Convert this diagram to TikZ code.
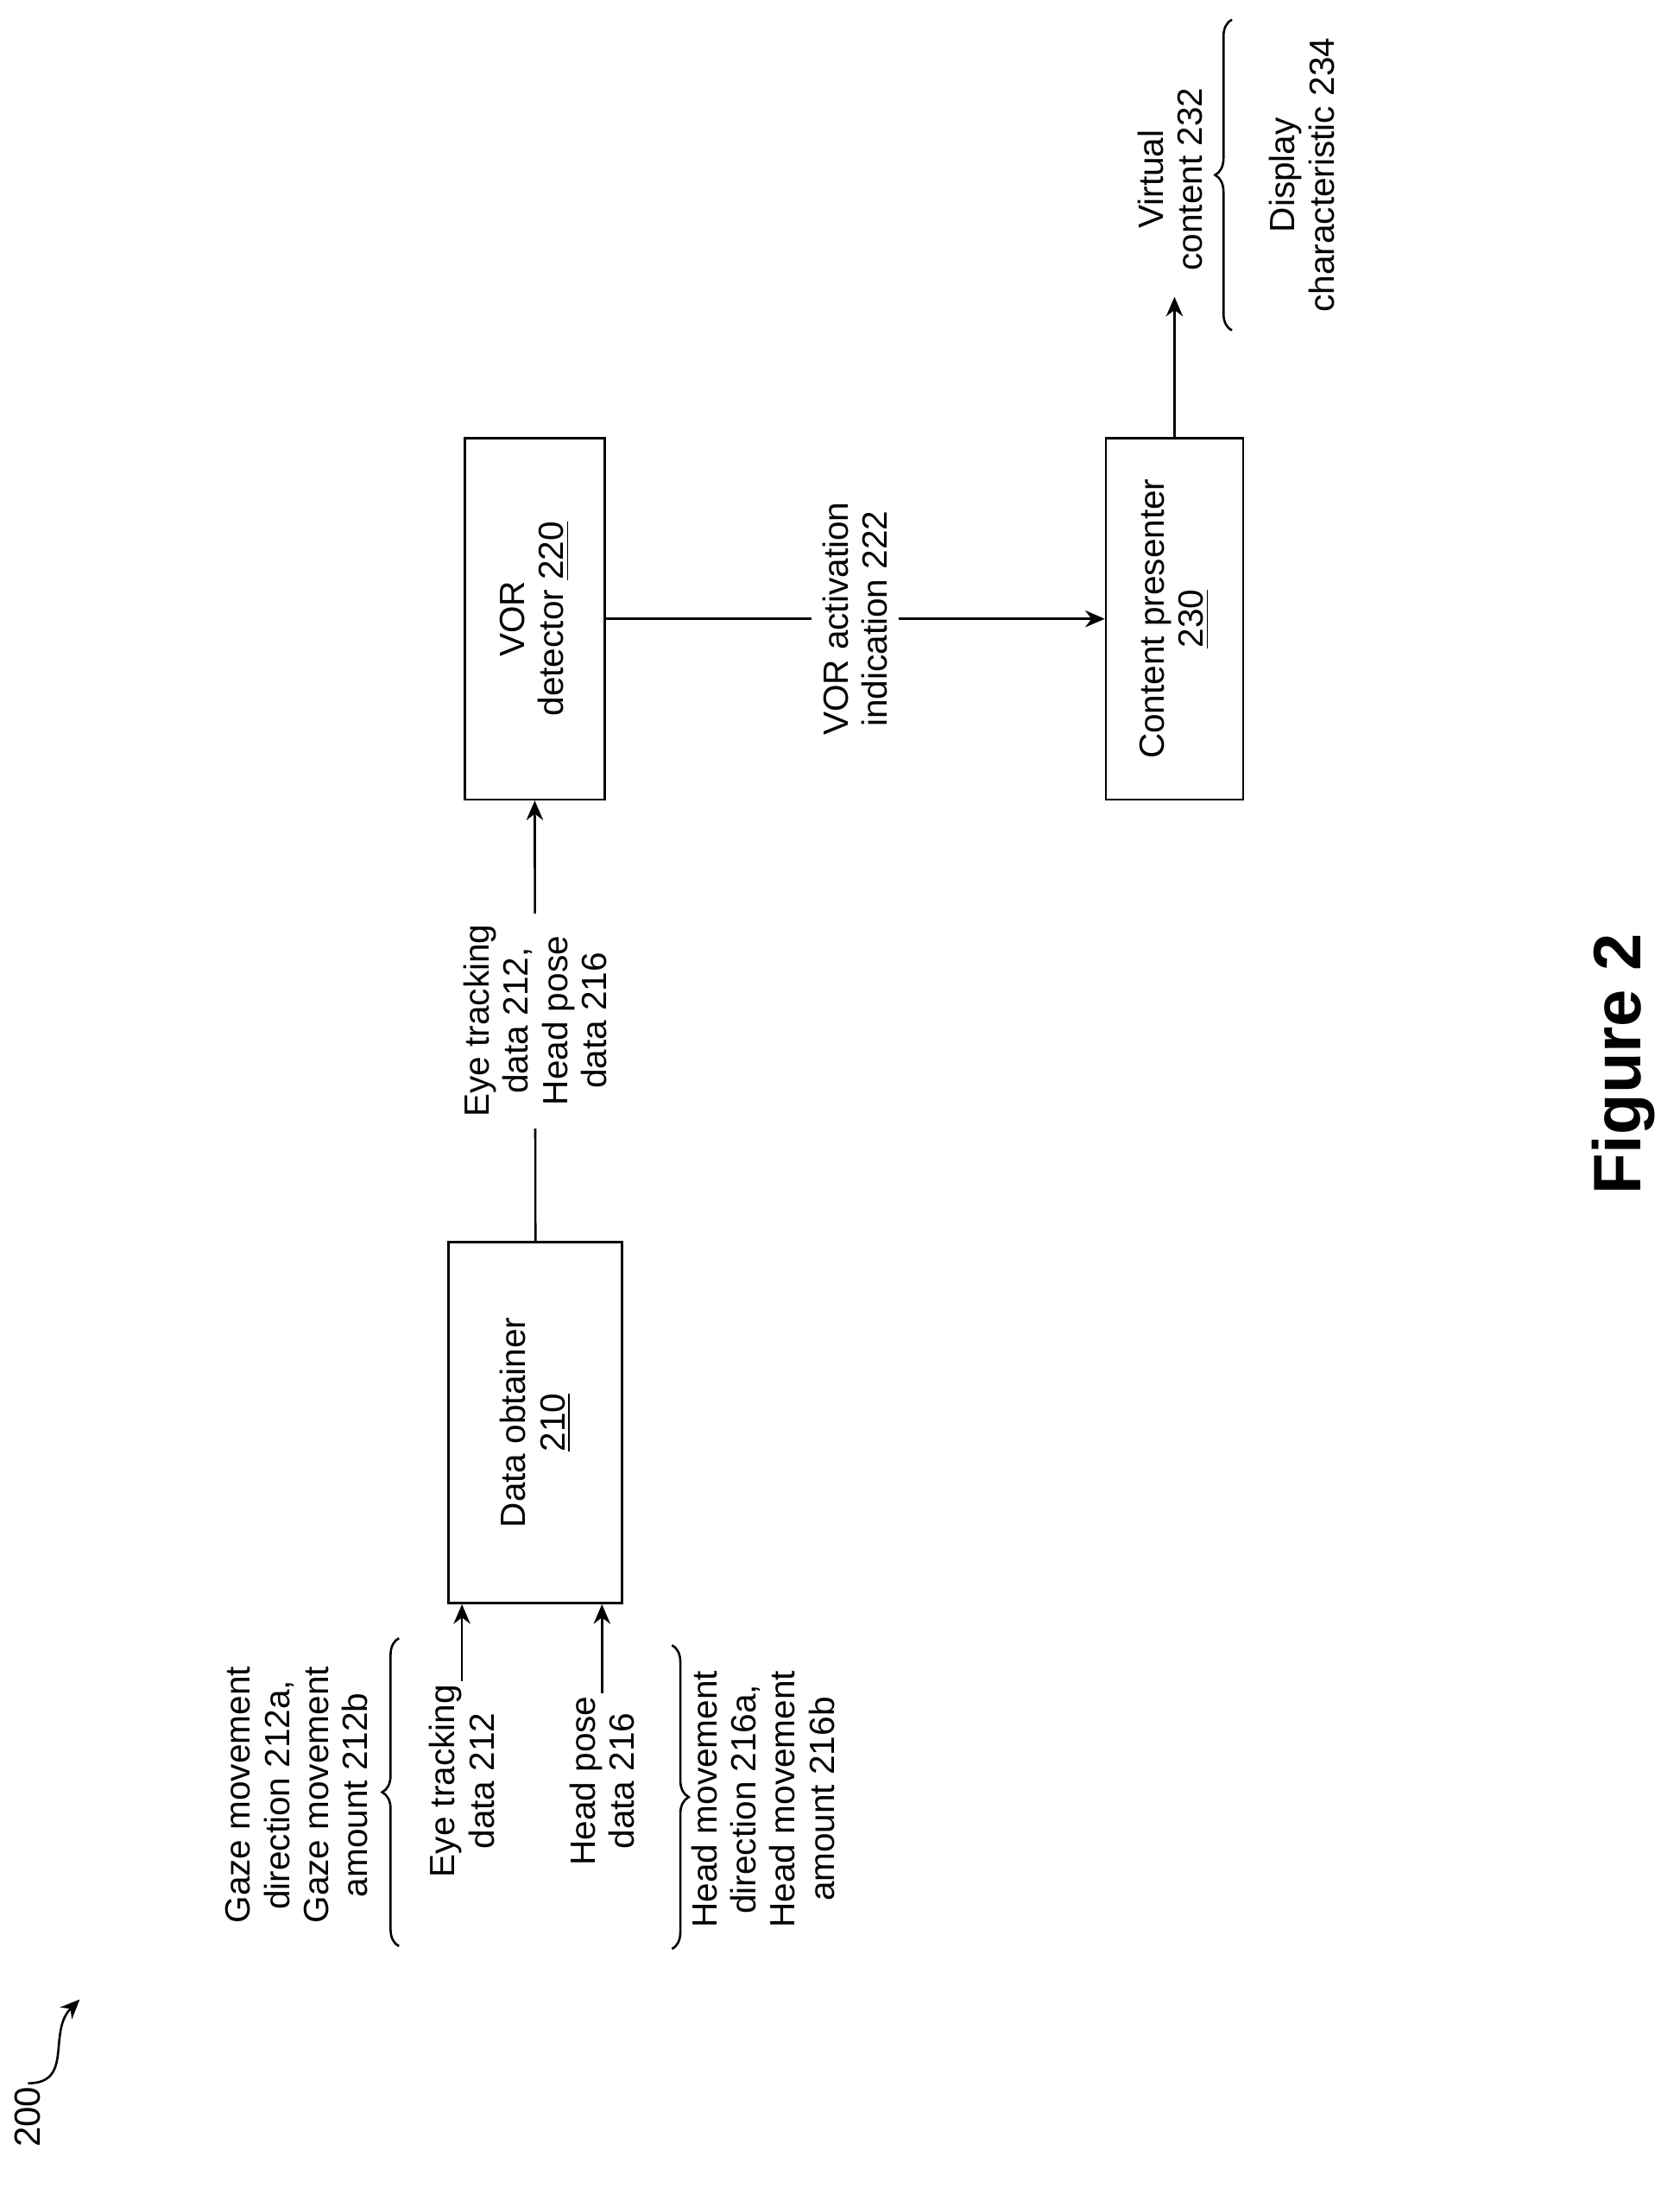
\documentclass[tikz,border=0pt]{standalone}
\usepackage{fontspec}
\setmainfont{Liberation Sans}
\usetikzlibrary{decorations.pathreplacing,arrows.meta}
\tikzset{
	blk/.style 2 args={draw, thick, rotate=90, align=center, minimum width=#1, minimum height=#2, inner sep=2pt},
	txt/.style={rotate=90, align=center, inner sep=1pt, font=\fontsize{12.5}{14}\selectfont},
	arr/.style={thick, -{Stealth[length=7pt,width=6pt]}},
	brc/.style={thick, decorate, decoration={brace, amplitude=6pt}}
}

\begin{document}
\begin{tikzpicture}[x=0.5pt, y=-0.5pt]
	\useasboundingbox (0,0) rectangle (1200,1572);
	\tikzset{every node/.append style={font=\fontsize{12.5}{14}\selectfont}}

	\node[blk={129pt}{62pt}] (do) at (382.5,1016) {Data obtainer\\\underline{210}};
	\node[blk={129pt}{50pt}] (vor) at (382,442) {VOR\\detector \underline{220}};
	\node[blk={129pt}{49pt}] (cp) at (839,442) {Content presenter\\\underline{230}};

	\node[txt] (eye) at (330,1272) {Eye tracking\\data 212};
	\node[txt] (head) at (430,1272) {Head pose\\data 216};
	\node[txt] (gaze) at (212,1282) {Gaze movement\\direction 212a,\\Gaze movement\\amount 212b};
	\node[txt] (hmv) at (545,1285) {Head movement\\direction 216a,\\Head movement\\amount 216b};

	\draw[arr] (eye.east) -- (eye.east |- do.west);
	\draw[arr] (head.east) -- (head.east |- do.west);
	\draw[brc] (285,1390) -- (285,1170);
	\draw[brc] (480,1175) -- (480,1392);

	\draw[arr] (do.east) -- node[txt, fill=white, inner sep=4pt] {Eye tracking\\data 212,\\Head pose\\data 216} (vor.west);
	\draw[arr] (vor.south) -- node[txt, fill=white, inner sep=4pt] {VOR activation\\indication 222} (cp.north);

	\node[txt] (vc) at (836,128) {Virtual\\content 232};
	\node[txt] (dc) at (930,125) {Display\\characteristic 234};
	\draw[arr] (cp.east) -- (cp.east |- 0,212);
	\draw[brc] (880,236) -- (880,14);

	\node[txt, font=\fontsize{13}{15}\selectfont] (fig) at (20,1512) {200};
	\draw[arr] (fig.east) to[out=0, in=225, looseness=1.2] (57,1428);

	\node[rotate=90, font=\fontsize{24}{28}\selectfont\bfseries] (ttl) at (1160,760) {Figure 2};
\end{tikzpicture}
\end{document}
